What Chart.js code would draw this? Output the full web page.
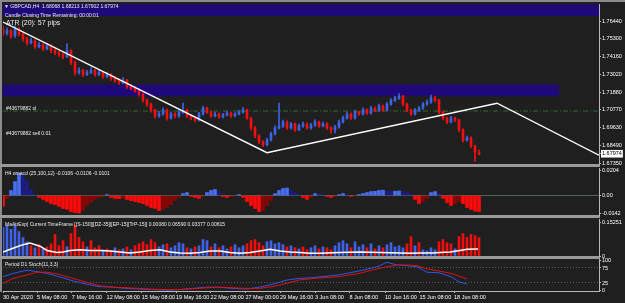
<!DOCTYPE html>
<html>
<head>
<meta charset="utf-8">
<title>GBPCAD,H4</title>
<script src="https://cdn.jsdelivr.net/npm/chart.js@4.4.1/dist/chart.umd.min.js"></script>
<style>
  html, body { margin: 0; padding: 0; }
  body { width: 625px; height: 303px; background: #1f1f1f; position: relative; overflow: hidden;
         font-family: "Liberation Sans", Arial, sans-serif; }
  canvas { position: absolute; left: 0; z-index: 1; }
  .frame { position: absolute; background: #8c8c8c; z-index: 0; }
  .sep { position: absolute; left: 0; width: 600px; height: 3px; background: #9a9a9a; z-index: 0; }
  .txt { position: absolute; color: #ececec; font-size: 5px; line-height: 6px; white-space: nowrap; z-index: 3; }
</style>
</head>
<body>
<div class="frame" style="left:0;top:0;width:625px;height:2px"></div>
<div class="frame" style="left:0;top:0;width:2px;height:292px"></div>
<div class="sep" style="top:164px"></div>
<div class="sep" style="top:215px"></div>
<div class="sep" style="top:256px"></div>

<canvas id="main" width="625" height="172" style="top:0"></canvas>
<canvas id="macd" width="625" height="64" style="top:160px"></canvas>
<canvas id="atr" width="625" height="50" style="top:212px"></canvas>
<canvas id="stoch" width="625" height="51" style="top:252px"></canvas>

<div class="txt" style="left:4px;top:3px">&#9660; GBPCAD,H4&nbsp; 1.68068 1.68213 1.67902 1.67974</div>
<div class="txt" style="left:5px;top:11.5px">Candle Closing Time Remaining: 00:00:01</div>
<div class="txt" style="left:6px;top:19px;font-size:7px;line-height:8px">ATR (20): 57 pips</div>
<div class="txt" style="left:6px;top:104.5px">#43679882 sl</div>
<div class="txt" style="left:6px;top:129.5px">#43679882 sell 0.01</div>
<div class="txt" style="left:5px;top:169.5px">H4 omacd (25,100,12) -0.0106 -0.0106 -0.0101</div>
<div class="txt" style="left:5px;top:220.5px">MaAtrExp| Current TimeFrame [[S-150]][DZ-35][[EP-15][TrP-15]] 0.00080 0.06590 0.03377 0.00815</div>
<div class="txt" style="left:5px;top:260.5px">Period D1 Stoch(11,3,3)</div>

<script>
// -------------------------
// DATA
// -------------------------
const timeLabels = ["30 Apr 2020", "5 May 08:00", "7 May 16:00", "12 May 08:00", "15 May 08:00",
    "19 May 16:00", "22 May 08:00", "27 May 00:00", "29 May 16:00", "3 Jun 08:00",
    "8 Jun 08:00", "10 Jun 16:00", "15 Jun 08:00", "18 Jun 08:00"];
const timeIdx = [0, 8.5, 17.2, 25.9, 34.7, 43.25, 51.9, 60.6, 69.25, 78, 86.6, 95.5, 104.1, 112.75];

const opens = [1.7590,1.7568,1.7581,1.7549,1.7593,1.7562,1.7530,1.7505,1.7518,1.7480,
    1.7492,1.7467,1.7486,1.7455,1.7442,1.7429,1.7417,1.7455,1.7379,1.7316,
    1.7328,1.7303,1.7316,1.7328,1.7303,1.7316,1.7290,1.7303,1.7278,1.7265,
    1.7253,1.7265,1.7227,1.7215,1.7202,1.7177,1.7139,1.7114,1.7076,1.7038,
    1.7051,1.7076,1.7025,1.7051,1.7038,1.7063,1.7076,1.7038,1.7025,1.7013,
    1.7051,1.7088,1.7063,1.7038,1.7051,1.7032,1.7044,1.7057,1.7038,1.7051,
    1.7063,1.7076,1.7025,1.6962,1.6912,1.6874,1.6855,1.6886,1.6924,1.6962,
    1.6975,1.7000,1.6962,1.6987,1.6950,1.6975,1.6987,1.6962,1.6981,1.7000,
    1.6975,1.6987,1.6962,1.6950,1.6968,1.7000,1.7025,1.7051,1.7025,1.7063,
    1.7051,1.7076,1.7057,1.7088,1.7076,1.7101,1.7076,1.7114,1.7139,1.7152,
    1.7164,1.7114,1.7076,1.7051,1.7076,1.7088,1.7114,1.7126,1.7152,1.7139,
    1.7063,1.7025,1.7000,1.7025,1.7013,1.6950,1.6886,1.6899,1.6848,1.6807];
const highs = [1.7612,1.7600,1.7590,1.7615,1.7602,1.7570,1.7542,1.7535,1.7526,1.7510,
    1.7500,1.7498,1.7494,1.7468,1.7452,1.7440,1.7499,1.7462,1.7388,1.7345,
    1.7337,1.7330,1.7348,1.7336,1.7332,1.7324,1.7318,1.7310,1.7288,1.7275,
    1.7284,1.7272,1.7238,1.7226,1.7210,1.7184,1.7146,1.7120,1.7082,1.7068,
    1.7090,1.7082,1.7064,1.7060,1.7078,1.7120,1.7082,1.7046,1.7034,1.7062,
    1.7100,1.7095,1.7070,1.7062,1.7058,1.7055,1.7068,1.7064,1.7060,1.7074,
    1.7092,1.7082,1.7030,1.6970,1.6920,1.6882,1.6895,1.6935,1.6975,1.7120,
    1.7012,1.7008,1.6998,1.6994,1.6986,1.7000,1.6994,1.6992,1.7014,1.7006,
    1.7000,1.6995,1.6970,1.6978,1.7012,1.7038,1.7064,1.7058,1.7075,1.7070,
    1.7090,1.7084,1.7100,1.7096,1.7114,1.7108,1.7126,1.7150,1.7164,1.7180,
    1.7170,1.7120,1.7082,1.7088,1.7100,1.7126,1.7140,1.7172,1.7166,1.7144,
    1.7070,1.7032,1.7036,1.7032,1.7018,1.6956,1.6910,1.6905,1.6852,1.6821];
const lows = [1.7552,1.7555,1.7535,1.7540,1.7550,1.7515,1.7492,1.7498,1.7470,1.7472,
    1.7455,1.7460,1.7442,1.7430,1.7418,1.7404,1.7410,1.7366,1.7300,1.7305,
    1.7290,1.7295,1.7308,1.7292,1.7296,1.7278,1.7282,1.7266,1.7252,1.7240,
    1.7244,1.7215,1.7204,1.7190,1.7165,1.7126,1.7100,1.7062,1.7025,1.7030,
    1.7044,1.7012,1.7018,1.7026,1.7030,1.7055,1.7028,1.7014,1.7000,1.7006,
    1.7044,1.7054,1.7030,1.7032,1.7024,1.7026,1.7038,1.7030,1.7032,1.7045,
    1.7056,1.7018,1.6950,1.6900,1.6862,1.6842,1.6848,1.6878,1.6918,1.6955,
    1.6966,1.6952,1.6955,1.6940,1.6944,1.6966,1.6954,1.6955,1.6972,1.6966,
    1.6968,1.6952,1.6928,1.6930,1.6960,1.6992,1.7018,1.7016,1.7018,1.7042,
    1.7044,1.7048,1.7050,1.7066,1.7068,1.7068,1.7070,1.7106,1.7130,1.7144,
    1.7104,1.7066,1.7040,1.7044,1.7068,1.7080,1.7105,1.7118,1.7128,1.7052,
    1.7014,1.6990,1.6994,1.7002,1.6938,1.6872,1.6878,1.6836,1.6748,1.6790];
const closes = [1.7568,1.7581,1.7549,1.7593,1.7562,1.7530,1.7505,1.7518,1.7480,1.7492,
    1.7467,1.7486,1.7455,1.7442,1.7429,1.7417,1.7455,1.7379,1.7316,1.7328,
    1.7303,1.7316,1.7328,1.7303,1.7316,1.7290,1.7303,1.7278,1.7265,1.7253,
    1.7265,1.7227,1.7215,1.7202,1.7177,1.7139,1.7114,1.7076,1.7038,1.7051,
    1.7076,1.7025,1.7051,1.7038,1.7063,1.7076,1.7038,1.7025,1.7013,1.7051,
    1.7088,1.7063,1.7038,1.7051,1.7032,1.7044,1.7057,1.7038,1.7051,1.7063,
    1.7076,1.7025,1.6962,1.6912,1.6874,1.6855,1.6886,1.6924,1.6962,1.6975,
    1.7000,1.6962,1.6987,1.6950,1.6975,1.6987,1.6962,1.6981,1.7000,1.6975,
    1.6987,1.6962,1.6950,1.6968,1.7000,1.7025,1.7051,1.7025,1.7063,1.7051,
    1.7076,1.7057,1.7088,1.7076,1.7101,1.7076,1.7114,1.7139,1.7152,1.7164,
    1.7114,1.7076,1.7051,1.7076,1.7088,1.7114,1.7126,1.7152,1.7139,1.7063,
    1.7025,1.7000,1.7025,1.7013,1.6950,1.6886,1.6899,1.6848,1.6807,1.6797];

const priceTicks = [1.7644, 1.7530, 1.7416, 1.7302, 1.7188, 1.7077, 1.6963, 1.6849, 1.6735];
const lastPrice = 1.67974;

// trend lines, order line, zones (bar index / price)
const trendIdx = [0, 66, 123.5, 149];
const trendPrice = [1.7638, 1.6804, 1.7120, 1.6788];
const slIdx = [0, 149];
const slPrice = 1.7070;
const zoneFrom = [0, 0];
const zoneTo = [149, 139];
const zoneTop = [1.7770, 1.7240];
const zoneBottom = [1.7676, 1.7164];

const macd = [-0.0089,-0.0024,0.0041,0.0113,0.0178,0.0162,0.0113,0.0049,0.0008,-0.0016,
    -0.0032,-0.0049,-0.0065,-0.0073,-0.0089,-0.0105,-0.0113,-0.0130,-0.0138,-0.0142,
    -0.0122,-0.0081,-0.0057,-0.0032,-0.0016,-0.0008,0.0008,-0.0016,-0.0024,-0.0026,
    -0.0025,-0.0032,-0.0041,-0.0049,-0.0057,-0.0065,-0.0081,-0.0097,-0.0105,-0.0122,
    -0.0113,-0.0097,-0.0073,-0.0041,-0.0016,0.0016,0.0024,-0.0008,-0.0016,-0.0024,
    -0.0008,0.0024,0.0041,0.0049,0.0032,-0.0008,-0.0016,-0.0010,-0.0004,0.0008,
    -0.0016,-0.0049,-0.0081,-0.0105,-0.0130,-0.0122,-0.0081,-0.0041,0.0016,0.0041,
    0.0057,0.0061,0.0041,0.0024,0.0008,-0.0016,-0.0032,-0.0018,0.0016,0.0014,
    0.0008,-0.0008,-0.0016,-0.0010,0.0008,0.0016,0.0010,-0.0008,-0.0006,0.0008,
    0.0016,0.0024,0.0032,0.0034,0.0041,0.0043,0.0036,0.0034,0.0035,0.0037,
    0.0033,0.0024,0.0016,-0.0032,-0.0065,-0.0049,-0.0024,0.0024,0.0032,0.0016,
    -0.0024,-0.0057,-0.0081,-0.0065,-0.0049,-0.0065,-0.0097,-0.0113,-0.0126,-0.0130];
const macdTicks = [0.0204, 0, -0.0142];

const atrVals = [0.129,0.138,0.120,0.138,0.110,0.083,0.064,0.046,0.037,0.051,
    0.032,0.041,0.055,0.097,0.046,0.069,0.041,0.101,0.138,0.083,
    0.064,0.041,0.069,0.037,0.046,0.028,0.032,0.023,0.037,0.028,
    0.032,0.041,0.028,0.046,0.055,0.064,0.051,0.074,0.060,0.041,
    0.051,0.055,0.037,0.046,0.060,0.055,0.037,0.032,0.041,0.046,
    0.074,0.069,0.041,0.055,0.037,0.046,0.032,0.041,0.051,0.037,
    0.046,0.055,0.069,0.074,0.060,0.046,0.064,0.069,0.055,0.060,
    0.051,0.041,0.046,0.037,0.032,0.041,0.028,0.037,0.046,0.032,
    0.041,0.037,0.028,0.046,0.060,0.069,0.055,0.037,0.064,0.041,
    0.051,0.037,0.055,0.032,0.046,0.037,0.051,0.060,0.041,0.046,
    0.037,0.055,0.087,0.046,0.060,0.028,0.023,0.037,0.028,0.064,
    0.074,0.060,0.055,0.032,0.087,0.101,0.083,0.097,0.092,0.083];
const atrSide = ("bbbbbbbrbr" + "brrrrrbrrr" + "rbrrrbrrbr" + "brbrrrrrrb" + "brbbbbrbrb" + "bbrbrbbrbb" +
    "brrrrrbbbb" + "brbrbrrbbr" + "brrbbbbrbb" + "brbrbrbbbb" + "brrbrbbbbr" + "rrrbrrrrrr").split("");
const atrLineIdx = [0,2.5,5,6.75,9.25,11,13.5,15,16.75,19.25,21.75,24.25,26.75,29.25,31.75,34.25,
    36.75,39.25,41.75,44.25,46.75,49.25,51.75,54.25,56.75,59.25,61.75,64.25,66.75,69.25,71.75,74.25,
    76.75,79.25,84.25,89.25,94.25,99.25,101.75,104.25,107.5,109.25,111.75,114.25,116,118.75];
const atrLine = [0.018,0.035,0.051,0.058,0.044,0.025,0.016,0.018,0.025,0.028,
    0.025,0.025,0.023,0.018,0.014,0.018,0.025,0.028,0.018,0.014,
    0.012,0.016,0.023,0.023,0.016,0.012,0.016,0.023,0.030,0.023,
    0.018,0.016,0.012,0.012,0.016,0.018,0.016,0.014,0.012,0.014,
    0.014,0.016,0.018,0.025,0.030,0.032];
const atrTicks = [0.15251, 0];

const stochIdx = [0,2.5,6,8.5,11,14,17.5,21,24,27.5,31,34,37.5,41,44,47.5,51,54,57.5,61,
    64,67.5,71,74,77.5,84,89,93.5,96,98.5,101,103.5,106,109,112,114,116];
const stochMain = [46,57,68,63,57,46,32,21,13,11,7,5,3,1,3,7,11,11,7,5,
    11,21,35,40,43,52,65,79,94,85,83,79,61,59,46,29,21];
const stochSignal = [24,40,52,61,61,54,40,27,16,11,9,7,4,3,3,6,9,11,9,7,
    7,13,24,35,40,46,57,72,79,85,85,83,72,65,57,48,38];
const stochTicks = [100, 75, 25, 0];

// -------------------------
// COMMON
// -------------------------
Chart.defaults.font.family = "Liberation Sans";
const WHITE = "#ffffff";
const AXIS = "#b8b8b8";
const BLUE = "#3d63e8";
const RED = "#f01010";

function xAxis(show) {
    let ax = { type: "linear", min: 0, max: 149, offset: false, display: show, grid: { offset: false } };
    if (show) {
        ax.afterFit = s => { s.height = 12; };
        ax.afterBuildTicks = s => { s.ticks = timeIdx.map(v => ({ value: v })); };
        ax.ticks = { color: WHITE, font: { size: 5.5 }, autoSkip: false, maxRotation: 0, align: "start",
            padding: 1, callback: (v, i) => timeLabels[i] };
        ax.grid = { offset: false, drawOnChartArea: false, tickLength: 2, tickColor: AXIS };
        ax.border = { color: AXIS };
    }
    return ax;
}

function yAxis(min, max, vals, fmt, extra) {
    let ax = {
        position: "right", min: min, max: max,
        afterFit: s => { s.width = 26; },
        afterBuildTicks: s => { s.ticks = vals.slice().sort((a, b) => a - b).map(v => ({ value: v })); },
        ticks: { color: WHITE, font: { size: 5.5 }, padding: 1, autoSkip: false, callback: fmt },
        grid: { drawOnChartArea: false, tickLength: 2, tickColor: AXIS },
        border: { color: AXIS }
    };
    return Object.assign(ax, extra || {});
}

function baseOptions(pad, scales) {
    return {
        responsive: false, animation: false, events: [],
        layout: { autoPadding: false, padding: Object.assign({ left: 3, right: 0 }, pad) },
        plugins: { legend: { display: false }, tooltip: { enabled: false } },
        scales: scales
    };
}

// -------------------------
// MAIN PRICE PANEL
// -------------------------
let mainSets = [];
for (let k = 0; k < zoneTop.length; k++) {
    mainSets.push({ type: "line", order: 10, data: [{ x: zoneFrom[k], y: zoneTop[k] }, { x: zoneTo[k], y: zoneTop[k] }],
        borderWidth: 0, pointRadius: 0, fill: false });
    mainSets.push({ type: "line", order: 10, data: [{ x: zoneFrom[k], y: zoneBottom[k] }, { x: zoneTo[k], y: zoneBottom[k] }],
        borderWidth: 0, pointRadius: 0, fill: "-1", backgroundColor: "#1f0878" });
}
mainSets.push({ type: "line", order: 5, data: slIdx.map(x => ({ x: x, y: slPrice })),
    borderColor: "#2f6a2f", borderWidth: 1, borderDash: [5, 2, 1, 2], pointRadius: 0, fill: false });
mainSets.push({ type: "bar", order: 3, grouped: false, barThickness: 1,
    data: highs.map((h, i) => ({ x: i, y: [lows[i], h] })),
    backgroundColor: c => closes[c.dataIndex] >= opens[c.dataIndex] ? BLUE : RED });
mainSets.push({ type: "bar", order: 2, grouped: false, barThickness: 2, minBarLength: 1,
    data: opens.map((o, i) => ({ x: i, y: [o, closes[i]] })),
    backgroundColor: c => closes[c.dataIndex] >= opens[c.dataIndex] ? BLUE : RED });
mainSets.push({ type: "line", order: 0, data: trendIdx.map((x, i) => ({ x: x, y: trendPrice[i] })),
    borderColor: WHITE, borderWidth: 1.4, pointRadius: 0, fill: false });

new Chart(document.getElementById("main"), {
    type: "bar",
    data: { datasets: mainSets },
    options: baseOptions({ top: 3, bottom: 8 }, {
        x: xAxis(false),
        y: yAxis(1.6732, 1.7751, priceTicks.concat([lastPrice]), v => v.toFixed(5), {
            ticks: {
                font: { size: 5.5 }, padding: 1, autoSkip: false,
                callback: v => v.toFixed(5),
                color: c => (c.tick && c.tick.value === lastPrice) ? "#000" : WHITE,
                showLabelBackdrop: c => !!(c.tick && c.tick.value === lastPrice),
                backdropColor: WHITE,
                backdropPadding: { x: 1, y: 0.5 }
            }
        })
    })
});

// -------------------------
// MACD PANEL
// -------------------------
new Chart(document.getElementById("macd"), {
    type: "bar",
    data: {
        datasets: [{
            data: macd.map((v, i) => ({ x: i, y: v })),
            barThickness: 3,
            backgroundColor: c => {
                let i = c.dataIndex;
                let v = macd[i];
                let p = i > 0 ? macd[i - 1] : v;
                if (v >= 0) return v >= p ? "#4a6ef2" : "#1c1c86";
                return v <= p ? "#ff0a0a" : "#8a0606";
            }
        }]
    },
    options: baseOptions({ top: 8, bottom: 9 }, {
        x: xAxis(false),
        y: yAxis(-0.0158, 0.0223, macdTicks, v => v === 0 ? "0.00" : v.toFixed(4), {
            grid: { drawOnChartArea: true, tickLength: 2, tickColor: AXIS,
                color: c => (c.tick && c.tick.value === 0) ? "#52605b" : "rgba(0,0,0,0)" }
        })
    })
});

// -------------------------
// ATR PANEL
// -------------------------
new Chart(document.getElementById("atr"), {
    type: "bar",
    data: {
        datasets: [{
            type: "line", order: 0,
            data: atrLineIdx.map((x, i) => ({ x: x, y: atrLine[i] })),
            borderColor: WHITE, borderWidth: 1.5, pointRadius: 0, fill: false
        }, {
            order: 1,
            data: atrVals.map((v, i) => ({ x: i, y: v })),
            barThickness: 2,
            backgroundColor: c => atrSide[c.dataIndex] === "b" ? "#4062e6" : "#f00f0f"
        }]
    },
    options: baseOptions({ top: 7, bottom: 6 }, {
        x: xAxis(false),
        y: yAxis(0, 0.1664, atrTicks, v => v === 0 ? "0" : v.toFixed(5))
    })
});

// -------------------------
// STOCH PANEL
// -------------------------
new Chart(document.getElementById("stoch"), {
    type: "line",
    data: {
        datasets: [{
            data: stochIdx.map((x, i) => ({ x: x, y: stochSignal[i] })),
            borderColor: "#e01010", borderWidth: 1, pointRadius: 0, fill: false
        }, {
            data: stochIdx.map((x, i) => ({ x: x, y: stochMain[i] })),
            borderColor: "#3355e6", borderWidth: 1, pointRadius: 0, fill: false
        }]
    },
    options: baseOptions({ top: 7, bottom: 0 }, {
        x: xAxis(true),
        y: yAxis(-1.7, 105, stochTicks, v => String(v), {
            grid: { drawOnChartArea: true, tickLength: 2, tickColor: AXIS,
                color: c => (c.tick && (c.tick.value === 75 || c.tick.value === 25)) ? "#5a5a5a" : "rgba(0,0,0,0)" },
            border: { color: AXIS, dash: [1, 2] }
        })
    })
});
</script>
</body>
</html>
